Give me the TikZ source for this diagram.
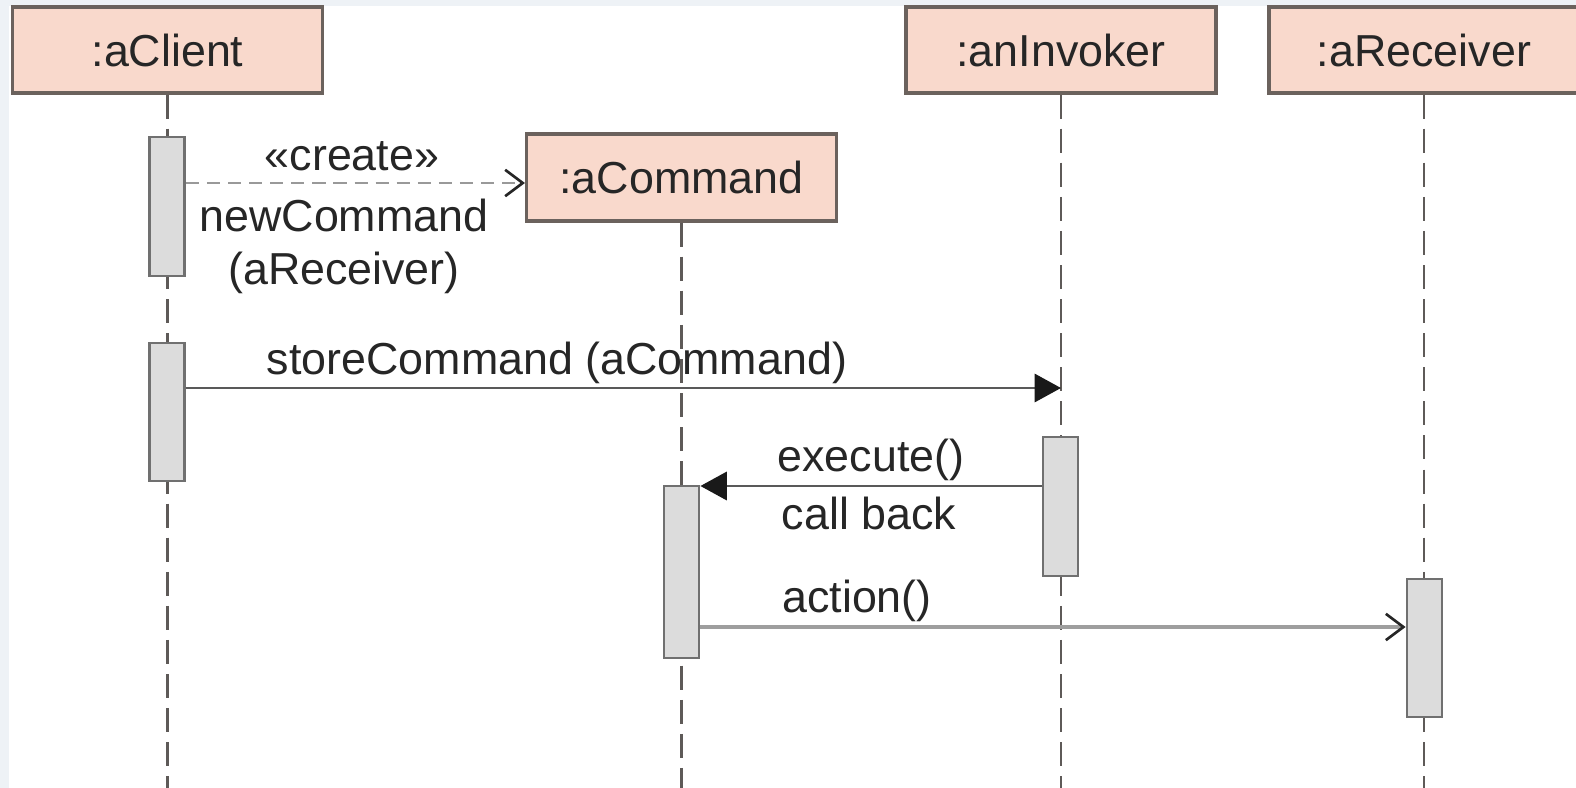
\documentclass[tikz,border=0pt]{standalone}
\usepackage{fontspec}
\setmainfont{Liberation Sans}
\usetikzlibrary{arrows.meta, positioning}

\definecolor{objfill}{HTML}{F9D9CC}
\definecolor{objline}{HTML}{6B625D}
\definecolor{barfill}{HTML}{DCDCDC}
\definecolor{barline}{HTML}{707070}
\definecolor{lifegray}{HTML}{5E5A58}
\definecolor{framegray}{HTML}{EEF2F6}

\tikzset{
  object/.style={draw=objline, fill=objfill, line width=1.8pt, minimum width=6.2cm,
    minimum height=1.72cm, inner sep=0pt, text=black!85, font=\fontsize{25.5}{28.5}\selectfont},
  activation/.style={draw=barline, fill=barfill, line width=1.6pt, minimum width=0.7cm, inner sep=0pt},
  lifeline/.style={draw=lifegray, line width=1.5pt, dash pattern=on 13.7pt off 5.7pt},
  msgtext/.style={inner sep=0pt, text=black!85, font=\fontsize{25.5}{30}\selectfont},
  call/.style={draw=black!65, line width=1.6pt, -{Triangle[length=15pt,width=16pt,color=black!90]}},
  createmsg/.style={draw=black!40, line width=1.6pt, dash pattern=on 7.5pt off 4.5pt,
    -{Straight Barb[length=10pt,width=15pt,line width=1.5pt,color=black!85]}},
  asyncmsg/.style={draw=black!38, line width=2.3pt,
    -{Straight Barb[length=10pt,width=15pt,line width=1.5pt,color=black!85]}}
}

\begin{document}
\begin{tikzpicture}[x=0.02cm, y=-0.02cm]
\useasboundingbox (0,0) rectangle (1576,788);
\fill[framegray] (0,0) rectangle (1576,788);
\fill[white] (9,6) rectangle (1576,788);

\coordinate (bottom) at (0,788);

% Objects
\node[object] (client) at (167.5,50) {:aClient};
\node[object] (invoker) at (1061,50) {:anInvoker};
\node[object] (receiver) at (1424,50) {:aReceiver};
\node[object, minimum height=1.74cm] (command) at (681.5,177.5) {:aCommand};

% Lifelines
\draw[lifeline] (client.south) -- (client.south |- bottom);
\draw[lifeline] (invoker.south) -- (invoker.south |- bottom);
\draw[lifeline] (receiver.south) -- (receiver.south |- bottom);
\draw[lifeline] (command.south) -- (command.south |- bottom);

% Activations
\node[activation, minimum height=2.78cm] (clientA) at (167,206.5) {};
\node[activation, minimum height=2.76cm] (clientB) at (167,412) {};
\node[activation, minimum height=3.44cm] (commandA) at (681.5,572) {};
\node[activation, minimum height=2.78cm] (invokerA) at (1060.5,506.5) {};
\node[activation, minimum height=2.76cm] (receiverA) at (1424.5,648) {};

% Messages
\coordinate (m1) at (0,183);
\coordinate (m2) at (0,388);
\coordinate (m3) at (0,486);
\coordinate (m4) at (0,627);
\draw[createmsg] (clientA.east |- m1) -- (command.west |- m1);
\draw[call] (clientB.east |- m2) -- (invoker.south |- m2);
\draw[call] (invokerA.west |- m3) -- (commandA.east |- m3);
\draw[asyncmsg] (commandA.east |- m4) -- (receiverA.west |- m4);

% Message labels
\node[msgtext, anchor=base] (createlbl) at (352,170) {«create»};
\node[msgtext, anchor=north, align=center] (newlbl) at (344,199) {newCommand\\(aReceiver)};
\node[msgtext, anchor=base] (storelbl) at (557,374) {storeCommand (aCommand)};
\node[msgtext, anchor=base] (execlbl) at (871,471) {execute()};
\node[msgtext, anchor=base] (backlbl) at (869,529) {call back};
\node[msgtext, anchor=base] (actionlbl) at (857,612) {action()};

\end{tikzpicture}
\end{document}
